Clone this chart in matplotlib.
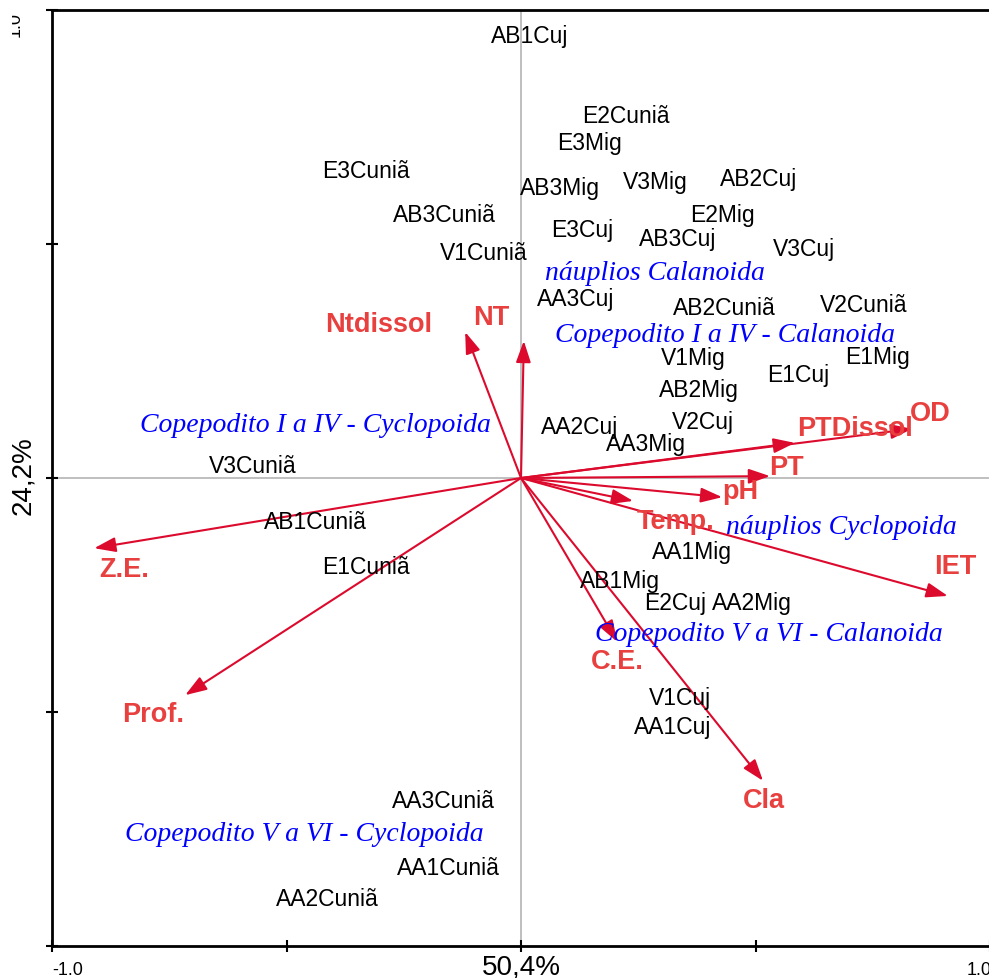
import matplotlib
matplotlib.use("Agg")
import matplotlib.pyplot as plt
from matplotlib.transforms import Bbox

# Sample (site) scores
site_names = ["AB1Cuj", "E2Cuniã", "E3Mig", "E3Cuniã", "AB3Mig", "V3Mig", "AB2Cuj",
              "E2Mig", "AB3Cuniã", "E3Cuj", "AB3Cuj", "V3Cuj", "V1Cuniã", "AA3Cuj",
              "AB2Cuniã", "V2Cuniã", "V1Mig", "E1Mig", "E1Cuj", "AB2Mig", "AA2Cuj",
              "V2Cuj", "AA3Mig", "V3Cuniã", "AB1Cuniã", "E1Cuniã", "AA1Mig", "AB1Mig",
              "E2Cuj", "AA2Mig", "V1Cuj", "AA1Cuj", "AA3Cuniã", "AA1Cuniã", "AA2Cuniã"]
site_x = [0.019, 0.224, 0.145, -0.330, 0.083, 0.286, 0.507,
          0.429, -0.164, 0.130, 0.333, 0.603, -0.079, 0.117,
          0.433, 0.731, 0.367, 0.761, 0.591, 0.380, 0.124,
          0.388, 0.267, -0.571, -0.439, -0.330, 0.365, 0.211,
          0.328, 0.493, 0.339, 0.324, -0.166, -0.154, -0.412]
site_y = [0.945, 0.774, 0.716, 0.658, 0.620, 0.633, 0.639,
          0.564, 0.564, 0.530, 0.511, 0.490, 0.481, 0.383,
          0.364, 0.370, 0.257, 0.259, 0.222, 0.190, 0.111,
          0.120, 0.073, 0.026, -0.094, -0.190, -0.158, -0.218,
          -0.267, -0.267, -0.468, -0.532, -0.690, -0.833, -0.899]

# Species scores
species_names = ["náuplios Calanoida", "Copepodito I a IV - Calanoida",
                 "Copepodito I a IV - Cyclopoida", "náuplios Cyclopoida",
                 "Copepodito V a VI - Calanoida", "Copepodito V a VI - Cyclopoida"]
species_x = [0.286, 0.435, -0.439, 0.684, 0.529, -0.461]
species_y = [0.440, 0.306, 0.114, -0.104, -0.333, -0.760]

# Environmental variable vectors
env_names = ["Ntdissol", "NT", "PTDissol", "OD", "PT", "pH", "Temp.",
             "IET", "C.E.", "Cla", "Z.E.", "Prof."]
env_x = [-0.119, 0.006, 0.584, 0.834, 0.531, 0.429, 0.239,
         0.910, 0.205, 0.516, -0.910, -0.716]
env_y = [0.312, 0.293, 0.075, 0.105, 0.004, -0.041, -0.049,
         -0.252, -0.350, -0.647, -0.150, -0.464]
# where each vector's name is written
env_label_x = [-0.303, -0.064, 0.712, 0.872, 0.567, 0.467, 0.330,
               0.925, 0.205, 0.518, -0.846, -0.785]
env_label_y = [0.330, 0.345, 0.106, 0.138, 0.023, -0.027, -0.091,
               -0.189, -0.392, -0.687, -0.195, -0.505]

x_axis_label = "50,4%"
y_axis_label = "24,2%"
tick_values = [-1.0, -0.5, 0.0, 0.5, 1.0]

W, H = 989, 979
fig = plt.figure(figsize=(W / 100, H / 100), dpi=100)
ax = fig.add_axes([52 / W, 32 / H, 938 / W, 936 / H])
ax.set_xlim(-1, 1)
ax.set_ylim(-1, 1)

for side in ("left", "bottom", "top"):
    ax.spines[side].set_linewidth(2.0)
    ax.spines[side].set_color("black")
ax.spines["right"].set_visible(False)

ax.set_xticks(tick_values)
ax.set_yticks(tick_values)
ax.set_xticklabels([])
ax.set_yticklabels([])
ax.tick_params(direction="inout", length=8, width=1.5, color="black")

ax.axhline(0, color="#b4b4b4", lw=1.2, zorder=1)
ax.axvline(0, color="#b4b4b4", lw=1.2, zorder=1)

sans = "Liberation Sans"
serif = "Liberation Serif"

# Environmental arrows
arrow_color = "#dc0a2d"
label_red = "#e8403f"
for name, x, y, lx, ly in zip(env_names, env_x, env_y, env_label_x, env_label_y):
    ax.annotate("", xy=(x, y), xytext=(0, 0),
                arrowprops=dict(arrowstyle="-|>,head_length=1.3,head_width=0.45",
                                mutation_scale=10, color=arrow_color, lw=1.5,
                                shrinkA=0, shrinkB=0), zorder=3)
    ax.text(lx, ly, name, color=label_red, fontsize=19.5, fontweight="bold",
            family=sans, ha="center", va="center", zorder=4)

# Sample labels
for name, x, y in zip(site_names, site_x, site_y):
    ax.text(x, y, name, color="black", fontsize=16.5, family=sans,
            ha="center", va="center", zorder=5)

# Species labels
for name, x, y in zip(species_names, species_x, species_y):
    ax.text(x, y, name, color="#0000ff", fontsize=20, family=serif,
            style="italic", ha="center", va="center", zorder=5)

# Axis annotations
fig.text(52 / W, 1 - 962 / H, "-1.0", fontsize=13, family=sans,
         ha="left", va="top")
fig.text(992 / W, 1 - 962 / H, "1.0", fontsize=13, family=sans,
         ha="right", va="top")
fig.text(521 / W, 1 - 955 / H, x_axis_label, fontsize=20, family=sans,
         ha="center", va="top")
fig.text(23 / W, 1 - 476 / H, y_axis_label, fontsize=20, family=sans,
         rotation=90, ha="center", va="center")
t = fig.text(15 / W, 1 - 12 / H, "1.0", fontsize=13, family=sans,
             rotation=90, ha="center", va="top")
t.set_clip_box(Bbox([[12, 0], [60, H]]))
t.set_clip_on(True)

fig.savefig("out.png", dpi=100)
